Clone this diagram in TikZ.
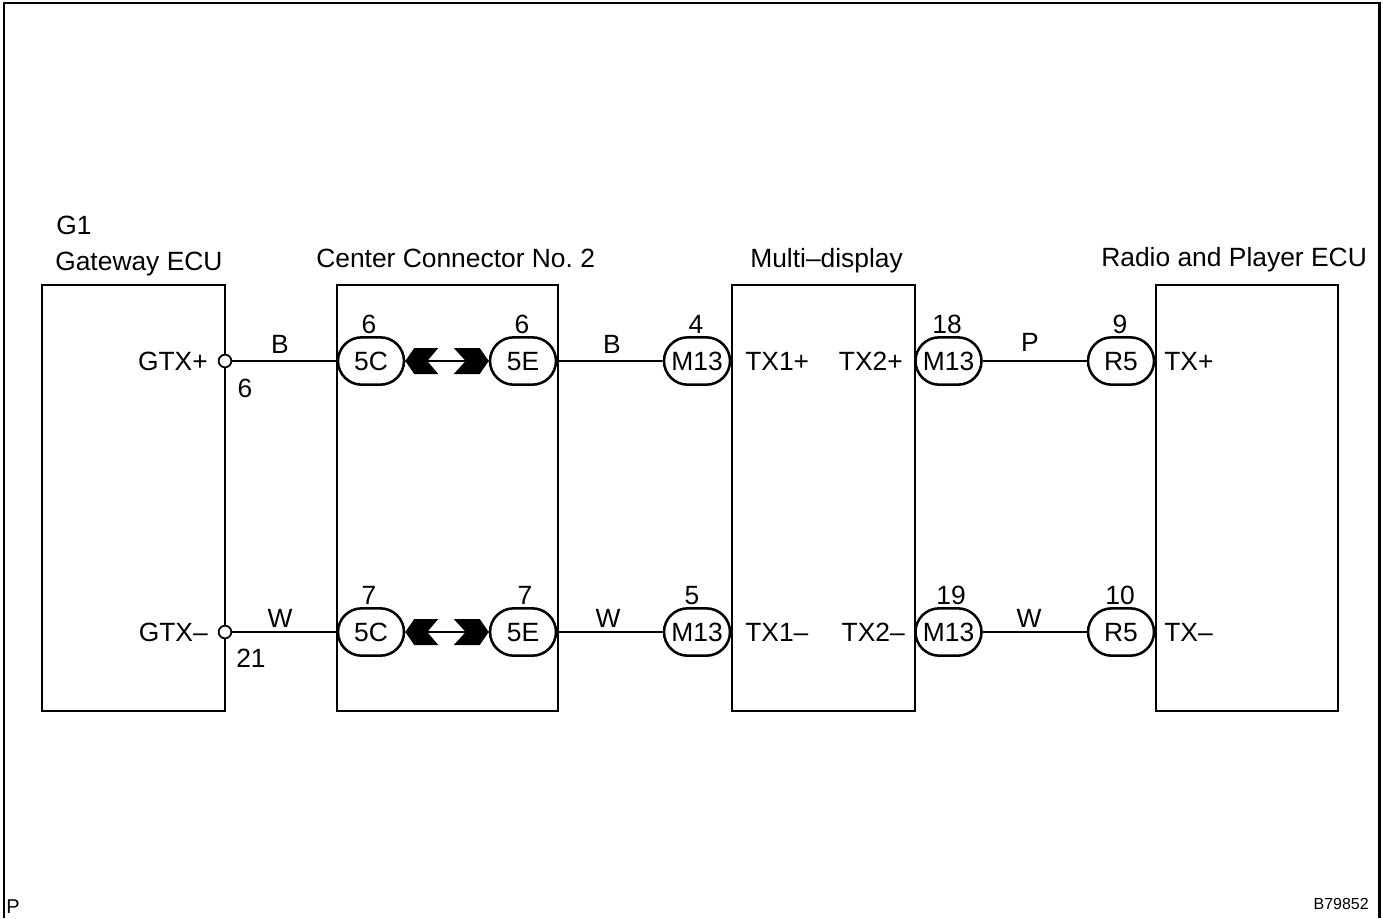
\documentclass[tikz,border=0pt]{standalone}
\usepackage{fontspec}
\setmainfont{Liberation Sans}
\usetikzlibrary{shapes.misc}
\tikzset{
  unitbox/.style={draw,line width=2.1pt,inner sep=0pt,anchor=north west},
  plug/.style={draw,fill=white,rounded rectangle,line width=1.9pt,minimum width=49.5pt,minimum height=35.5pt,inner sep=0pt,text height=14pt,text depth=0pt,font=\fontsize{19.8}{22}\selectfont},
  wire/.style={line width=1.3pt},
  pin/.style={draw,fill=white,circle,line width=1.3pt,minimum size=9.5pt,inner sep=0pt},
  lbl/.style={inner sep=0pt,font=\fontsize{19.8}{22}\selectfont},
  chevleft/.pic={\fill (0,0) -- (9,-13) -- (33,-13) -- (22,0) -- (33,13) -- (9,13) -- cycle;},
  chevright/.pic={\fill (0,0) -- (-9,-13) -- (-35,-13) -- (-23,0) -- (-35,13) -- (-9,13) -- cycle;}
}
\begin{document}
\begin{tikzpicture}[x=0.75pt,y=0.75pt,yscale=-1,xscale=1]
\useasboundingbox (0,0) rectangle (1383,918);

%Outer frame
\draw [line width=2.1pt] (4,918) -- (4,3) -- (1379.5,3) -- (1379.5,918) ;

%Units
\node (gateway) [unitbox,minimum width=137.25pt,minimum height=319.5pt] at (40.5,283.5) {};
\node (center) [unitbox,minimum width=165.75pt,minimum height=319.5pt] at (335.5,283.5) {};
\node (display) [unitbox,minimum width=137.25pt,minimum height=319.5pt] at (730.5,283.5) {};
\node (radio) [unitbox,minimum width=136.5pt,minimum height=319.5pt] at (1154.5,283.5) {};

%Upper row
\node (pinA) [pin] at (225,361) {};
\node (plugCa) [plug] at (371,361) {5C};
\node (plugEa) [plug] at (523,361) {5E};
\node (plugMa) [plug] at (697,361) {M13};
\node (plugNa) [plug] at (948.5,361) {M13};
\node (plugRa) [plug] at (1121,361) {R5};
\draw [wire] (pinA) -- (plugCa) ;
\draw [wire] (plugCa) -- (plugEa) ;
\draw [wire] (plugEa) -- (plugMa) ;
\draw [wire] (plugNa) -- (plugRa) ;
\path (plugCa.east) pic {chevleft} ;
\path (plugEa.west) pic {chevright} ;

%Lower row
\node (pinB) [pin] at (225,632) {};
\node (plugCb) [plug] at (371,632) {5C};
\node (plugEb) [plug] at (523,632) {5E};
\node (plugMb) [plug] at (697,632) {M13};
\node (plugNb) [plug] at (948.5,632) {M13};
\node (plugRb) [plug] at (1121,632) {R5};
\draw [wire] (pinB) -- (plugCb) ;
\draw [wire] (plugCb) -- (plugEb) ;
\draw [wire] (plugEb) -- (plugMb) ;
\draw [wire] (plugNb) -- (plugRb) ;
\path (plugCb.east) pic {chevleft} ;
\path (plugEb.west) pic {chevright} ;

% Text Node
\node (txtGone) [lbl,anchor=base west] at (56,234) {G1};
% Text Node
\node (txtGateway) [lbl,anchor=base west] at (55,270) {Gateway ECU};
% Text Node
\node (txtCenter) [lbl,anchor=base west] at (316,267) {Center Connector No.\ 2};
% Text Node
\node (txtDisplay) [lbl,anchor=base west] at (750,267) {Multi–display};
% Text Node
\node (txtRadio) [lbl,anchor=base west] at (1101,266) {Radio and Player ECU};
% Text Node
\node (txtGtxp) [lbl,anchor=base east] at (208,370) {GTX+};
% Text Node
\node (txtGtxm) [lbl,anchor=base east] at (208,641) {GTX–};
% Text Node
\node (txtPinA) [lbl,anchor=base] at (245,397) {6};
% Text Node
\node (txtPinB) [lbl,anchor=base] at (251,667) {21};
% Text Node
\node (txtB) [lbl,anchor=base] at (280,353) {B};
% Text Node
\node (txtW) [lbl,anchor=base] at (280,627) {W};
% Text Node
\node (txtCa) [lbl,anchor=base] at (369,333) {6};
% Text Node
\node (txtEa) [lbl,anchor=base] at (522,333) {6};
% Text Node
\node (txtCb) [lbl,anchor=base] at (369,604) {7};
% Text Node
\node (txtEb) [lbl,anchor=base] at (525,604) {7};
% Text Node
\node (txtBb) [lbl,anchor=base] at (612,353) {B};
% Text Node
\node (txtWb) [lbl,anchor=base] at (608,627) {W};
% Text Node
\node (txtMa) [lbl,anchor=base] at (696,333) {4};
% Text Node
\node (txtMb) [lbl,anchor=base] at (692,604) {5};
% Text Node
\node (txtTxa) [lbl,anchor=base west] at (745,370) {TX1+};
% Text Node
\node (txtTxb) [lbl,anchor=base west] at (745,641) {TX1–};
% Text Node
\node (txtTya) [lbl,anchor=base east] at (903,370) {TX2+};
% Text Node
\node (txtTyb) [lbl,anchor=base east] at (905,641) {TX2–};
% Text Node
\node (txtNa) [lbl,anchor=base] at (947,333) {18};
% Text Node
\node (txtNb) [lbl,anchor=base] at (951,604) {19};
% Text Node
\node (txtP) [lbl,anchor=base] at (1030,351) {P};
% Text Node
\node (txtWc) [lbl,anchor=base] at (1029,627) {W};
% Text Node
\node (txtRa) [lbl,anchor=base] at (1120,333) {9};
% Text Node
\node (txtRb) [lbl,anchor=base] at (1120,604) {10};
% Text Node
\node (txtTa) [lbl,anchor=base west] at (1164,370) {TX+};
% Text Node
\node (txtTb) [lbl,anchor=base west] at (1164,641) {TX–};
% Text Node
\node (txtCorner) [inner sep=0pt,anchor=base west,font=\fontsize{15}{17}\selectfont] at (6,913) {P};
% Text Node
\node (txtCode) [inner sep=0pt,anchor=base east,font=\fontsize{12}{14}\selectfont] at (1369,909) {B79852};
\end{tikzpicture}
\end{document}
